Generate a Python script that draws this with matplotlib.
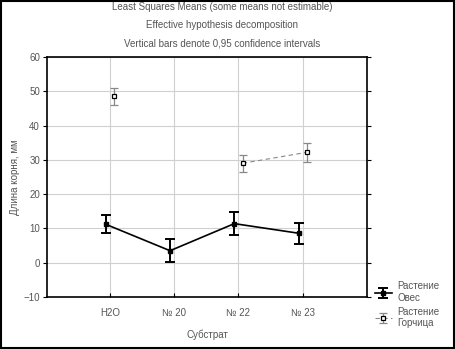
import numpy as np
import matplotlib
matplotlib.use("Agg")
import matplotlib.pyplot as plt
from matplotlib.patches import Rectangle

# data
categories = ["H2O", "№ 20", "№ 22", "№ 23"]
oat_mean = [11.2, 3.5, 11.4, 8.6]
oat_err = [2.6, 3.3, 3.3, 3.0]
mustard_mean = [48.5, np.nan, 29.0, 32.2]
mustard_err = [2.6, np.nan, 2.5, 2.7]
series_names = ["Растение\nОвес", "Растение\nГорчица"]
titles = ["Least Squares Means (some means not estimable)",
          "Effective hypothesis decomposition",
          "Vertical bars denote 0,95 confidence intervals"]

txt = "#555555"
plt.rcParams["font.family"] = ["Liberation Sans", "DejaVu Sans"]
plt.rcParams["font.size"] = 7

fig = plt.figure(figsize=(4.55, 3.49), dpi=100)
ax = fig.add_axes([0.1033, 0.149, 0.7033, 0.6877])

x = np.arange(len(categories))
off = 0.065

# oat series, solid line
ax.errorbar(x - off, oat_mean, yerr=oat_err, color="black", lw=1.2,
            elinewidth=1.4, capsize=3.5, capthick=1.4, marker="s", ms=2.2,
            mfc="black", label=series_names[0], zorder=3)

# mustard series, dashed gray line
ax.errorbar(x + off, mustard_mean, yerr=mustard_err, color="#888888",
            lw=0.8, ls=(0, (4, 3)), elinewidth=0.9, capsize=3, capthick=0.9,
            marker="s", ms=3, mfc="white", mec="black", mew=0.9,
            label=series_names[1], zorder=3)

ax.set_xlim(-0.98, 4.0)
ax.set_ylim(-10, 60)
ax.set_yticks(np.arange(-10, 61, 10))
ax.set_xticks(x)
ax.set_xticklabels(categories)
ax.grid(True, color="#d0d0d0", lw=0.8)
ax.set_axisbelow(True)
for s in ax.spines.values():
    s.set_linewidth(1.2)
ax.tick_params(axis="y", direction="out", length=3, colors="black",
               labelcolor=txt, right=True, pad=2)
ax.tick_params(axis="x", direction="in", length=3, colors="black",
               labelcolor=txt, pad=8)

ax.set_xlabel("Субстрат", color=txt, labelpad=8)
ax.set_ylabel("Длина корня, мм", color=txt)
ax.yaxis.set_label_coords(-0.085, 0.5)

for i, t in enumerate(titles):
    fig.text(0.488, 0.995 - i * 0.052, t, ha="center", va="top", color=txt)

leg = ax.legend(loc="upper left", bbox_to_anchor=(0.815, 0.205),
                bbox_transform=fig.transFigure, frameon=False,
                handlelength=1.8, labelspacing=0.4, borderaxespad=0,
                handletextpad=0.5)
for t in leg.get_texts():
    t.set_color(txt)

fig.patches.append(Rectangle((0.002, 0.003), 0.996, 0.994,
                             transform=fig.transFigure, fill=False,
                             ec="black", lw=1.5))

fig.savefig("out.png", dpi=100)
